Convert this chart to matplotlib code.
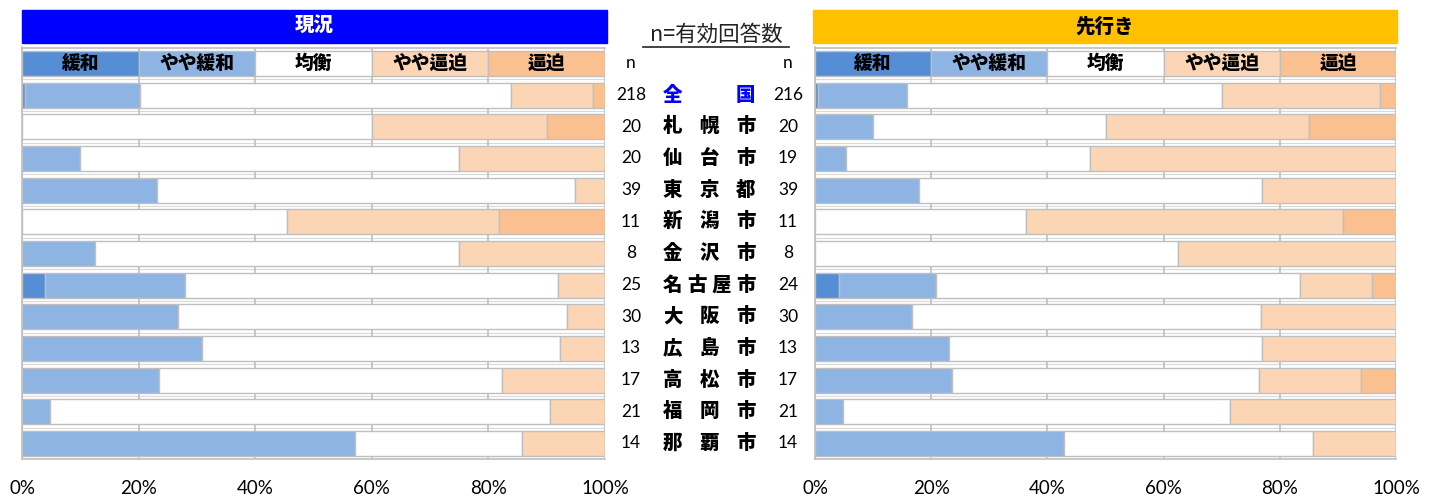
import numpy as np
import matplotlib
matplotlib.use("Agg")
import matplotlib.pyplot as plt
from matplotlib.patches import Rectangle
from matplotlib.lines import Line2D
import matplotlib.transforms as mtransforms

plt.rcParams['font.family'] = ['Noto Sans CJK JP', 'DejaVu Sans']

# categories and answer counts
cities = ["全国", "札幌市", "仙台市", "東京都", "新潟市", "金沢市",
          "名古屋市", "大阪市", "広島市", "高松市", "福岡市", "那覇市"]
n_now = [218, 20, 20, 39, 11, 8, 25, 30, 13, 17, 21, 14]
n_next = [216, 20, 19, 39, 11, 8, 24, 30, 13, 17, 21, 14]

levels = ["緩和", "やや緩和", "均衡", "やや逼迫", "逼迫"]
legend_share = [20, 20, 20, 20, 20]

# 現況 (%)
now_kanwa = [0.5, 0, 0, 0, 0, 0, 4.0, 0, 0, 0, 0, 0]
now_yaya_kanwa = [19.7, 0, 10.0, 23.1, 0, 12.5, 24.0, 26.7, 30.8, 23.5, 4.8, 57.1]
now_kinko = [63.6, 60.0, 65.0, 71.8, 45.5, 62.5, 64.0, 66.7, 61.5, 58.8, 85.7, 28.6]
now_yaya_hippaku = [14.2, 30.0, 25.0, 5.1, 36.4, 25.0, 8.0, 6.6, 7.7, 17.7, 9.5, 14.3]
now_hippaku = [2.0, 10.0, 0, 0, 18.1, 0, 0, 0, 0, 0, 0, 0]

# 先行き (%)
next_kanwa = [0.5, 0, 0, 0, 0, 0, 4.2, 0, 0, 0, 0, 0]
next_yaya_kanwa = [15.3, 10.0, 5.3, 17.9, 0, 0, 16.7, 16.7, 23.1, 23.5, 4.8, 42.9]
next_kinko = [54.2, 40.0, 42.1, 59.0, 36.4, 62.5, 62.5, 60.0, 53.8, 52.9, 66.7, 42.9]
next_yaya_hippaku = [27.3, 35.0, 52.6, 23.1, 54.5, 37.5, 12.5, 23.3, 23.1, 17.6, 28.5, 14.2]
next_hippaku = [2.7, 15.0, 0, 0, 9.1, 0, 4.1, 0, 0, 5.9, 0, 0]

colors = ["#558ED5", "#8EB4E3", "#FFFFFF", "#FCD5B5", "#FAC090"]
edge = "#BFBFBF"

W, H = 1437, 499
fig = plt.figure(figsize=(W / 100, H / 100), dpi=100)


def fx(px):
    return px / W


def fy(py):
    return 1 - py / H


ax_top, ax_bot = 47.5, 459.3


def draw_panel(left_px, right_px, series):
    ax = fig.add_axes([fx(left_px), fy(ax_bot), fx(right_px - left_px),
                       (ax_bot - ax_top) / H])
    rows = np.arange(len(cities)) + 1
    left = np.zeros(len(cities))
    for vals, col in zip(series, colors):
        ax.barh(rows, vals, left=left, height=0.79, color=col,
                edgecolor=edge, linewidth=1.0, zorder=3)
        left += np.array(vals)
    # legend row drawn as an equal-share bar
    lleft = 0
    for lab, share, col in zip(levels, legend_share, colors):
        ax.barh(0, share, left=lleft, height=0.79, color=col,
                edgecolor=edge, linewidth=1.0, zorder=3)
        ax.text(lleft + share / 2, 0, lab, ha="center", va="center",
                fontsize=13.5, fontweight="black", zorder=4)
        lleft += share
    ax.set_xlim(0, 100)
    ax.set_ylim(len(cities) + 0.5, -0.5)
    ax.set_xticks(np.arange(0, 101, 20))
    ax.set_xticklabels([f"{v}%" for v in range(0, 101, 20)],
                       family=["Lato", "DejaVu Sans"], fontsize=13.5)
    ax.set_yticks([])
    ax.tick_params(axis="x", length=0, pad=15)
    ax.grid(axis="x", color=edge, linewidth=1.2, zorder=0)
    for y in np.arange(-0.5, len(cities) + 0.5):
        ax.axhline(y, color="#D9D9D9", linewidth=0.8, zorder=0)
    for s in ax.spines.values():
        s.set_color(edge)
        s.set_linewidth(1.2)
    ax.spines["right"].set_visible(False)
    return ax


ax1 = draw_panel(22, 605, [now_kanwa, now_yaya_kanwa, now_kinko,
                           now_yaya_hippaku, now_hippaku])
ax2 = draw_panel(815, 1396, [next_kanwa, next_yaya_kanwa, next_kinko,
                             next_yaya_hippaku, next_hippaku])

# header boxes
fig.add_artist(Rectangle((fx(22), fy(43)), fx(585), 33 / H,
                         transform=fig.transFigure, color="#0000FF"))
fig.text(fx(314), fy(26.5), "現況", color="white", fontsize=14,
         fontweight="black", ha="center", va="center")
fig.add_artist(Rectangle((fx(813), fy(43)), fx(584), 33 / H,
                         transform=fig.transFigure, color="#FFC000"))
fig.text(fx(1105), fy(26.5), "先行き", color="black", fontsize=14,
         fontweight="black", ha="center", va="center")

# center column
fig.text(fx(716), fy(35), "n=有効回答数", fontsize=15.5, ha="center",
         va="center", color="#222222")
fig.add_artist(Line2D([fx(643), fx(789)], [fy(47), fy(47)],
                      transform=fig.transFigure, color="#222222", linewidth=1.2))

tr = mtransforms.blended_transform_factory(fig.transFigure, ax1.transData)
fig.text(fx(631), 0, "n", transform=tr, fontsize=12.5, ha="center",
         va="center", family=["Lato", "DejaVu Sans"])
fig.text(fx(788), 0, "n", transform=tr, fontsize=12.5, ha="center",
         va="center", family=["Lato", "DejaVu Sans"])
x0, x1 = 672.7, 745.7
for i, (name, a, b) in enumerate(zip(cities, n_now, n_next)):
    row = i + 1
    fig.text(fx(631), row, str(a), transform=tr, fontsize=12.5, ha="center",
             va="center", family=["Lato", "DejaVu Sans"])
    fig.text(fx(788), row, str(b), transform=tr, fontsize=12.5, ha="center",
             va="center", family=["Lato", "DejaVu Sans"])
    col = "#0000FF" if i == 0 else "black"
    k = len(name)
    for j, ch in enumerate(name):
        x = x0 + (x1 - x0) * j / (k - 1)
        fig.text(fx(x), row, ch, transform=tr, fontsize=14,
                 fontweight="black", ha="center", va="center", color=col)

fig.savefig("out.png", dpi=100)
